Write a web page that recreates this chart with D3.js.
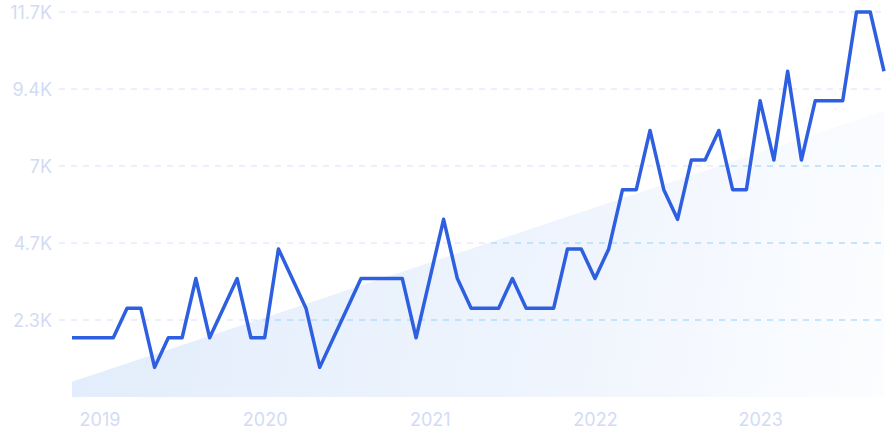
<!DOCTYPE html>
<html>
<head>
<meta charset="utf-8">
<script src="https://cdn.jsdelivr.net/npm/d3@7"></script>
<style>
  html, body { margin: 0; padding: 0; background: #ffffff; }
  svg { display: block; }
  text { font-family: Inter, "Noto Sans", sans-serif; }
</style>
</head>
<body>
<svg id="chart" width="888" height="443"></svg>
<script>
// Monthly values, Jan 2019 .. Dec 2023
const months = d3.range(60);
const values = [
  1800, 1800, 1800, 1800, 2700, 2700, 900, 1800, 1800, 3600, 1800, 2700,
  3600, 1800, 1800, 4500, 3600, 2700, 900, 1800, 2700, 3600, 3600, 3600,
  3600, 1800, 3600, 5400, 3600, 2700, 2700, 2700, 3600, 2700, 2700, 2700,
  4500, 4500, 3600, 4500, 6300, 6300, 8100, 6300, 5400, 7200, 7200, 8100,
  6300, 6300, 9000, 7200, 9900, 7200, 9000, 9000, 9000, 11700, 11700, 9900
];
// Trend line values at first and last month
const trendIndex = [0, 59];
const trendValues = [460, 8690];

const yTickValues = [2340, 4680, 7020, 9360, 11700];
const yTickLabels = ["2.3K", "4.7K", "7K", "9.4K", "11.7K"];
const yearLabels = ["2019", "2020", "2021", "2022", "2023"];
const yearTickIndex = [2, 14, 26, 38, 50];

const svg = d3.select("#chart");
const x = d3.scaleLinear().domain([0, 59]).range([72, 884]);
const y = d3.scaleLinear().domain([0, 11700]).range([397, 12]);

const defs = svg.append("defs");
const grad = defs.append("linearGradient")
  .attr("id", "areaGrad")
  .attr("gradientUnits", "userSpaceOnUse")
  .attr("x1", 72).attr("y1", 250).attr("x2", 884).attr("y2", 397);
grad.append("stop").attr("offset", "0%").attr("stop-color", "#e2edfb");
grad.append("stop").attr("offset", "55%").attr("stop-color", "#eef4fd");
grad.append("stop").attr("offset", "100%").attr("stop-color", "#fcfdff");

const trendData = trendIndex.map((i, k) => ({ i, v: trendValues[k] }));
const area = d3.area()
  .x(d => x(d.i))
  .y0(y(0))
  .y1(d => y(d.v));

defs.append("clipPath").attr("id", "areaClip")
  .append("path").attr("d", area(trendData));

svg.append("path")
  .attr("d", area(trendData))
  .attr("fill", "url(#areaGrad)");

// gridlines
const gridG = svg.append("g");
gridG.selectAll("line").data(yTickValues).join("line")
  .attr("x1", 59).attr("x2", 884)
  .attr("y1", d => y(d)).attr("y2", d => y(d))
  .attr("stroke", "#d8e1f9")
  .attr("stroke-width", 1)
  .attr("stroke-dasharray", "6,6");
const gridG2 = svg.append("g").attr("clip-path", "url(#areaClip)");
gridG2.selectAll("line").data(yTickValues).join("line")
  .attr("x1", 59).attr("x2", 884)
  .attr("y1", d => y(d)).attr("y2", d => y(d))
  .attr("stroke", "#a3dcfc")
  .attr("stroke-width", 1)
  .attr("stroke-dasharray", "6,6");

// y axis labels
const yAxis = d3.axisLeft(y).tickValues(yTickValues)
  .tickFormat((d, k) => yTickLabels[k]).tickSize(0).tickPadding(0);
const yg = svg.append("g").attr("transform", "translate(52,0)").call(yAxis);
yg.select(".domain").remove();
yg.selectAll("text")
  .attr("fill", "#d3dbf4")
  .attr("font-size", 18)
  .attr("dy", "0.35em")
  .style("font-family", "Inter, 'Noto Sans', sans-serif");

// x axis labels
const xAxis = d3.axisBottom(x).tickValues(yearTickIndex)
  .tickFormat((d, k) => yearLabels[k]).tickSize(0).tickPadding(0);
const xg = svg.append("g").attr("transform", "translate(0,413)").call(xAxis);
xg.select(".domain").remove();
xg.selectAll("text")
  .attr("fill", "#d3dbf4")
  .attr("font-size", 18)
  .attr("dy", "0.71em")
  .style("font-family", "Inter, 'Noto Sans', sans-serif");

// line
const line = d3.line().x(d => x(d)).y(d => y(values[d]));
svg.append("path")
  .datum(months)
  .attr("d", line)
  .attr("fill", "none")
  .attr("stroke", "#2d5fe0")
  .attr("stroke-width", 3.5)
  .attr("stroke-linejoin", "round")
  .attr("stroke-linecap", "butt");
</script>
</body>
</html>
